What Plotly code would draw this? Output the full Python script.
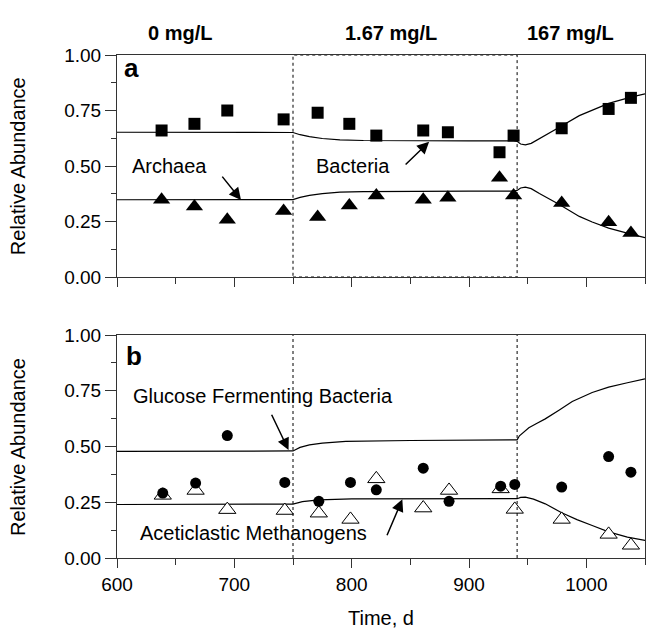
import plotly.graph_objects as go
from plotly.subplots import make_subplots

# ---------- data ----------
# Panel a: measured
day_a = [638, 666, 694, 742, 771, 798, 821, 861, 882, 926, 938, 979, 1019, 1038]
bacteria_obs = [0.66, 0.69, 0.75, 0.71, 0.74, 0.69, 0.637, 0.66, 0.652, 0.562, 0.637, 0.67, 0.757, 0.807]
archaea_obs = [0.348, 0.318, 0.258, 0.297, 0.27, 0.322, 0.367, 0.348, 0.357, 0.447, 0.367, 0.333, 0.247, 0.198]
# Panel a: model
day_model_a = [600, 700, 745, 750, 756, 764, 775, 790, 810, 850, 900, 938, 941, 944, 948, 953, 960, 977, 994, 1005, 1019, 1038, 1050]
bacteria_model = [0.652, 0.652, 0.652, 0.651, 0.641, 0.632, 0.624, 0.618, 0.615, 0.613, 0.613, 0.613, 0.611, 0.599, 0.595, 0.602, 0.624, 0.675, 0.727, 0.752, 0.782, 0.81, 0.825]
archaea_model = [0.348, 0.348, 0.348, 0.349, 0.359, 0.368, 0.376, 0.382, 0.385, 0.387, 0.387, 0.387, 0.39, 0.401, 0.405, 0.398, 0.376, 0.327, 0.273, 0.248, 0.22, 0.193, 0.177]

# Panel b: measured
day_b = [639, 667, 694, 743, 772, 799, 821, 861, 883, 927, 939, 979, 1019, 1038]
gfb_obs = [0.291, 0.336, 0.549, 0.339, 0.254, 0.339, 0.306, 0.403, 0.254, 0.322, 0.33, 0.318, 0.455, 0.385]
am_obs = [0.281, 0.303, 0.217, 0.213, 0.201, 0.173, 0.355, 0.224, 0.303, 0.31, 0.218, 0.173, 0.106, 0.057]
# Panel b: model
day_model_gfb = [600, 700, 745, 750, 756, 764, 775, 795, 850, 900, 938, 941, 943, 947, 951, 958, 965, 977, 988, 1005, 1019, 1035, 1050]
gfb_model = [0.478, 0.478, 0.478, 0.48, 0.496, 0.507, 0.515, 0.523, 0.527, 0.527, 0.527, 0.53, 0.548, 0.568, 0.584, 0.604, 0.624, 0.664, 0.702, 0.742, 0.766, 0.786, 0.803]
day_model_am = [600, 700, 745, 750, 758, 772, 800, 850, 900, 938, 941, 944, 948, 955, 965, 979, 992, 1005, 1019, 1035, 1050]
am_model = [0.24, 0.24, 0.24, 0.242, 0.253, 0.261, 0.265, 0.265, 0.264, 0.264, 0.266, 0.272, 0.273, 0.264, 0.243, 0.203, 0.172, 0.146, 0.117, 0.094, 0.079]

phase_days = [750, 941]
phase_labels = ["0 mg/L", "1.67 mg/L", "167 mg/L"]
phase_label_px = [180, 391, 570]

FONT = "Liberation Sans, Arial, sans-serif"

fig = make_subplots(rows=2, cols=1, shared_xaxes=False, vertical_spacing=0.115)

line_style = dict(color="black", width=1.2)
# Panel a
fig.add_trace(go.Scatter(x=day_model_a, y=bacteria_model, mode="lines", line=line_style,
                         showlegend=False), row=1, col=1)
fig.add_trace(go.Scatter(x=day_model_a, y=archaea_model, mode="lines", line=line_style,
                         showlegend=False), row=1, col=1)
fig.add_trace(go.Scatter(x=day_a, y=bacteria_obs, mode="markers",
                         marker=dict(symbol="square", size=12, color="black"),
                         showlegend=False), row=1, col=1)
fig.add_trace(go.Scatter(x=day_a, y=archaea_obs, mode="markers",
                         marker=dict(symbol="triangle-up", size=15, color="black"),
                         showlegend=False), row=1, col=1)
# Panel b
fig.add_trace(go.Scatter(x=day_model_gfb, y=gfb_model, mode="lines", line=line_style,
                         showlegend=False), row=2, col=1)
fig.add_trace(go.Scatter(x=day_model_am, y=am_model, mode="lines", line=line_style,
                         showlegend=False), row=2, col=1)
fig.add_trace(go.Scatter(x=day_b, y=am_obs, mode="markers",
                         marker=dict(symbol="triangle-up", size=15, color="white",
                                     line=dict(color="black", width=1)),
                         showlegend=False), row=2, col=1)
fig.add_trace(go.Scatter(x=day_b, y=gfb_obs, mode="markers",
                         marker=dict(symbol="circle", size=11, color="black"),
                         showlegend=False), row=2, col=1)

# dashed phase boundaries
dash = dict(color="black", width=1, dash="3px,3px")
fig.add_shape(type="rect", x0=phase_days[0], x1=phase_days[1], y0=0, y1=1,
              xref="x", yref="y", line=dash, fillcolor="rgba(0,0,0,0)")
for d in phase_days:
    fig.add_shape(type="line", x0=d, x1=d, y0=0, y1=1, xref="x2", yref="y2", line=dash)

axis_common = dict(range=[600, 1050], showline=True, linecolor="#333", linewidth=1,
                   mirror=True, ticks="outside", tickcolor="#333", ticklen=9, dtick=100,
                   tick0=600, showgrid=False, zeroline=False,
                   minor=dict(dtick=50, ticks="outside", ticklen=6, tickcolor="#333"),
                   tickfont=dict(family=FONT, size=19, color="black"))
fig.update_xaxes(**axis_common)
fig.update_xaxes(showticklabels=False, row=1, col=1)
fig.update_xaxes(title=dict(text="Time, d", font=dict(family=FONT, size=20, color="black"),
                            standoff=20), row=2, col=1)

yaxis_common = dict(range=[0, 1], showline=True, linecolor="#333", linewidth=1, mirror=True,
                    ticks="outside", tickcolor="#333", ticklen=11, dtick=0.25, tick0=0,
                    tickformat=".2f", showgrid=False, zeroline=False,
                    minor=dict(dtick=0.125, ticks="outside", ticklen=5, tickcolor="#333"),
                    tickfont=dict(family=FONT, size=19, color="black"))
fig.update_yaxes(**yaxis_common)

fig.update_layout(
    width=646, height=629,
    margin=dict(l=117, r=1, t=55, b=71),
    paper_bgcolor="white", plot_bgcolor="white",
    font=dict(family=FONT, size=20, color="black"),
)
fig.update_layout(xaxis=dict(domain=[0, 1]), xaxis2=dict(domain=[0, 1]),
                  yaxis=dict(domain=[0.5586, 1.0]), yaxis2=dict(domain=[0.0, 0.4433]))

ann = []
# y titles
for yc in [0.779, 0.2207]:
    ann.append(dict(text="Relative Abundance", xref="paper", yref="paper", x=-0.1875, y=yc,
                    textangle=-90, showarrow=False, font=dict(size=20),
                    xanchor="center", yanchor="middle"))
# phase headers
for lbl, px in zip(phase_labels, phase_label_px):
    ann.append(dict(text="<b>%s</b>" % lbl, xref="paper", yref="paper",
                    x=(px - 117) / 528, y=1.0437, showarrow=False,
                    font=dict(size=20), xanchor="center", yanchor="middle"))
# panel letters
ann.append(dict(text="<b>a</b>", xref="x", yref="y", x=604.5, y=0.94, showarrow=False,
                font=dict(size=26), xanchor="left", yanchor="middle"))
ann.append(dict(text="<b>b</b>", xref="x2", yref="y2", x=606, y=0.905, showarrow=False,
                font=dict(size=26), xanchor="left", yanchor="middle"))
# series labels
ann.append(dict(text="Archaea", xref="x", yref="y", x=644.7, y=0.5, showarrow=False,
                xanchor="center", yanchor="middle"))
ann.append(dict(text="Bacteria", xref="x", yref="y", x=801.3, y=0.5, showarrow=False,
                xanchor="center", yanchor="middle"))
ann.append(dict(text="Glucose Fermenting Bacteria", xref="x2", yref="y2", x=612, y=0.726,
                showarrow=False, xanchor="left", yanchor="middle"))
ann.append(dict(text="Aceticlastic Methanogens", xref="x2", yref="y2", x=617.7, y=0.112,
                showarrow=False, xanchor="left", yanchor="middle"))
# arrows
arrows = [("x", "y", 705.7, 0.347, 688.7, 0.459),
          ("x", "y", 866, 0.609, 844.7, 0.5),
          ("x2", "y2", 746.2, 0.484, 731.2, 0.649),
          ("x2", "y2", 843.2, 0.263, 829.6, 0.0955)]
for xr, yr, hx_, hy, tx, ty in arrows:
    ann.append(dict(text="", xref=xr, yref=yr, x=hx_, y=hy, axref=xr, ayref=yr, ax=tx, ay=ty,
                    showarrow=True, arrowhead=2, arrowsize=1.6, arrowwidth=1.5,
                    arrowcolor="black"))
fig.update_layout(annotations=ann)

fig.write_html("out.html")
